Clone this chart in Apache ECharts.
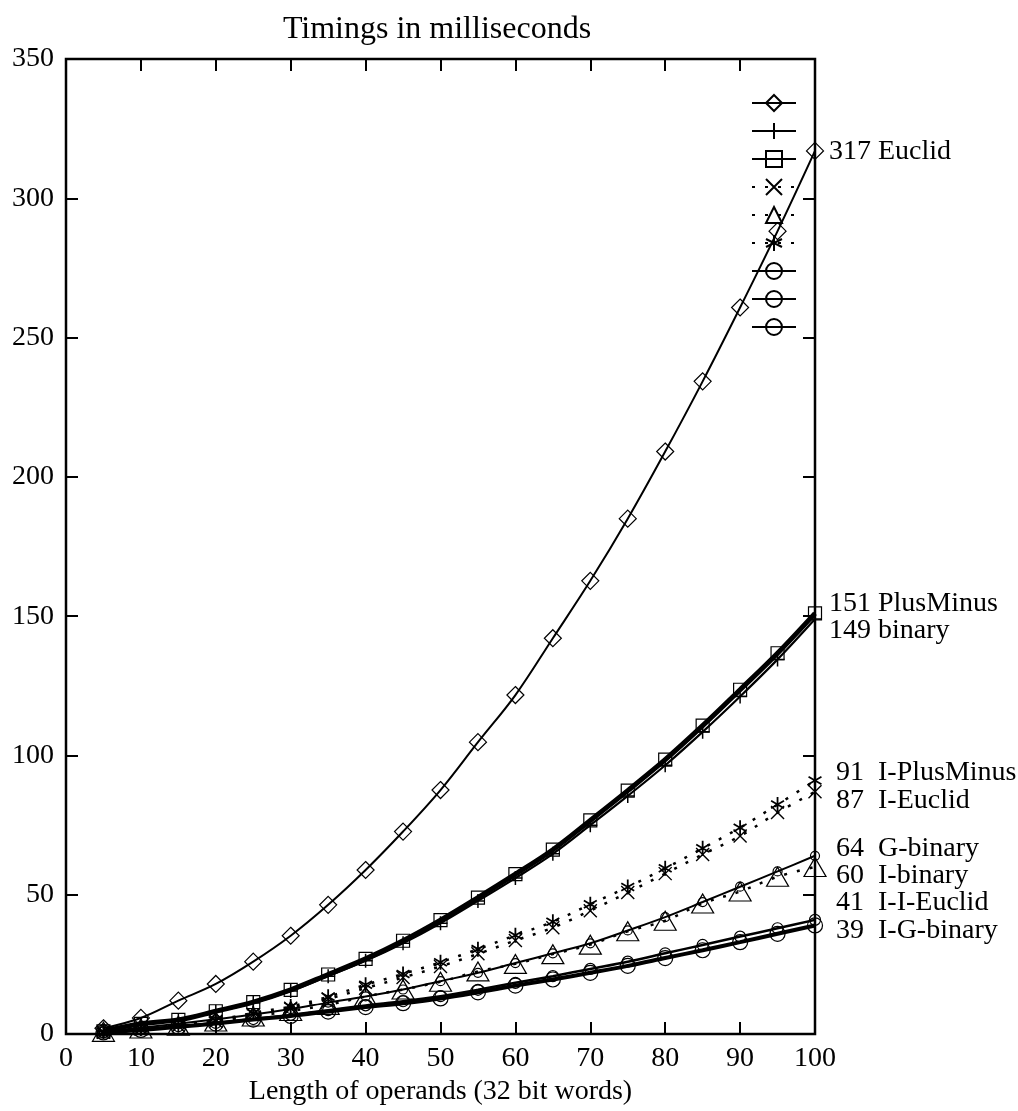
<!DOCTYPE html>
<html>
<head>
<meta charset="utf-8">
<script src="https://cdn.jsdelivr.net/npm/echarts@6/dist/echarts.min.js"></script>
<style>
  html, body { margin: 0; padding: 0; background: #fff; }
  #chart { width: 1018px; height: 1111px; }
</style>
</head>
<body>
<div id="chart"></div>
<script>
// Operand lengths (32 bit words)
const lengths = [5, 10, 15, 20, 25, 30, 35, 40, 45, 50, 55, 60, 65, 70, 75, 80, 85, 90, 95, 100];

// Timings in milliseconds per algorithm
const euclid      = [2.1, 5.8, 12, 18, 26, 35.3, 46.4, 58.9, 72.7, 87.6, 104.8, 121.7, 142.1, 162.7, 185, 209.1, 234.3, 260.8, 288.2, 317];
const binary      = [1, 3.5, 5, 8, 11.2, 15.5, 20.8, 26.3, 32.6, 39.8, 47.8, 56, 64.7, 75, 85.5, 96.5, 108.5, 121.2, 134.5, 149];
const plusMinus   = [1, 3.7, 5.1, 8.2, 11.5, 15.9, 21.4, 27, 33.5, 40.9, 49, 57.4, 66.2, 76.7, 87.4, 98.5, 110.7, 123.6, 136.7, 151];
const iEuclid     = [0.7, 1.8, 3, 4.6, 7, 9.3, 12.6, 16.5, 20.3, 24.3, 28.8, 33.6, 38.2, 44.3, 50.8, 57.6, 64.5, 71.1, 79.5, 87];
const iBinary     = [0.8, 2, 3, 4.5, 6.3, 8.3, 10.5, 13.5, 16, 18.8, 22.5, 25.2, 28.7, 32.1, 36.9, 40.7, 46.9, 51.2, 56.5, 60];
const iPlusMinus  = [0.8, 2, 3.3, 5, 7.6, 9.9, 13.4, 17.7, 21.6, 25.8, 30.5, 35.5, 40.3, 46.6, 52.8, 59.5, 66.7, 74.1, 82.4, 91];
const gBinary     = [1, 2.3, 3.7, 5.3, 7, 9, 11.3, 13.5, 16, 19, 22, 25.5, 29, 32.6, 37.2, 42, 47.4, 52.9, 58.4, 64];
const iiEuclid    = [0.7, 1.7, 2.8, 4, 5.4, 6.9, 8.6, 10.3, 11.8, 13.6, 15.9, 18.4, 20.8, 23.4, 26, 29, 32, 35, 38, 41];
const igBinary    = [0.6, 1.5, 2.6, 3.8, 5.2, 6.5, 8.1, 9.7, 11.1, 12.8, 15, 17.4, 19.6, 22, 24.5, 27.3, 30.1, 33, 36, 39];

// Axis ticks
const xTicks = { min: 0, max: 100, step: 10 };
const yTicks = { min: 0, max: 350, step: 50 };

const FONT = '"Liberation Serif", "DejaVu Serif", serif';
const FS = 28;

const SYM = {
  plus: 'path://M0,50L100,50M50,0L50,100',
  cross: 'path://M0,0L100,100M100,0L0,100',
  star: 'path://M50,0L50,100M7,25L93,75M7,75L93,25'
};

function pairs(arr) { return lengths.map((x, i) => [x, arr[i]]); }

function series(name, values, opts) {
  return {
    name: name,
    type: 'line',
    data: pairs(values),
    smooth: 0.35,
    symbol: opts.symbol,
    symbolSize: opts.size,
    symbolKeepAspect: true,
    showAllSymbol: true,
    z: opts.z || 2,
    lineStyle: { color: '#000', width: opts.width, type: opts.type || 'solid', cap: 'butt' },
    itemStyle: { color: 'rgba(0,0,0,0)', borderColor: '#000', borderWidth: opts.bw || 1.2 },
    emphasis: { disabled: true },
    endLabel: {
      show: true,
      formatter: function (p) { return '{n|' + Math.round(p.value[1]) + '} ' + name; },
      distance: 14,
      offset: [0, opts.dy || 0],
      color: '#000',
      fontFamily: FONT,
      fontSize: FS,
      rich: { n: { width: 42, align: 'right', fontFamily: FONT, fontSize: FS, color: '#000' } }
    }
  };
}

const chart = echarts.init(document.getElementById('chart'), null, { renderer: 'canvas' });

const axisCommon = {
  type: 'value',
  axisLine: { show: false, onZero: false },
  splitLine: { show: false },
  axisTick: { show: true, inside: true, length: 12, lineStyle: { color: '#000', width: 2 } }
};

chart.setOption({
  animation: false,
  backgroundColor: '#fff',
  title: {
    text: 'Timings in milliseconds',
    left: 432, textAlign: 'center', top: 9,
    textStyle: { fontFamily: FONT, fontSize: 32, fontWeight: 'normal', color: '#000' }
  },
  grid: {
    left: 66, right: 203, top: 59, bottom: 74,
    show: true, borderColor: '#000', borderWidth: 2.5, backgroundColor: '#fff'
  },
  legend: {
    show: true,
    orient: 'vertical',
    left: 746, top: 88,
    itemWidth: 44, itemHeight: 20, itemGap: 9,
    formatter: function () { return ''; },
    selectedMode: false,
    textStyle: { fontSize: 1 }
  },
  xAxis: [
    Object.assign({}, axisCommon, {
      min: xTicks.min, max: xTicks.max, interval: xTicks.step,
      position: 'bottom',
      name: 'Length of operands (32 bit words)',
      nameLocation: 'middle', nameGap: 38,
      nameTextStyle: { fontFamily: FONT, fontSize: FS, color: '#000' },
      axisLabel: { fontFamily: FONT, fontSize: FS, color: '#000', margin: 11 }
    }),
    Object.assign({}, axisCommon, {
      min: xTicks.min, max: xTicks.max, interval: xTicks.step,
      position: 'top', axisLabel: { show: false }
    })
  ],
  yAxis: [
    Object.assign({}, axisCommon, {
      min: yTicks.min, max: yTicks.max, interval: yTicks.step,
      position: 'left',
      axisLabel: { fontFamily: FONT, fontSize: FS, color: '#000', margin: 12 }
    }),
    Object.assign({}, axisCommon, {
      min: yTicks.min, max: yTicks.max, interval: yTicks.step,
      position: 'right', axisLabel: { show: false }
    })
  ],
  series: [
    series('Euclid',      euclid,     { symbol: 'diamond', size: [17, 17], width: 2, dy: 1 }),
    series('binary',      binary,     { symbol: SYM.plus, size: [14, 14], width: 2.2, dy: 12, bw: 1.5 }),
    series('PlusMinus',   plusMinus,  { symbol: 'rect', size: [13, 13], width: 5, dy: -10, z: 3 }),
    series('I-Euclid',    iEuclid,    { symbol: SYM.cross, size: [13, 13], width: 2.5, type: [3, 10], dy: 9, bw: 1.4 }),
    series('I-binary',    iBinary,    { symbol: 'triangle', size: [22, 19], width: 2.5, type: [3, 10], dy: 9 }),
    series('I-PlusMinus', iPlusMinus, { symbol: SYM.star, size: [15, 15], width: 2.5, type: [3, 10], dy: -8, bw: 1.8 }),
    series('G-binary',    gBinary,    { symbol: 'circle', size: [9, 9], width: 2, dy: -7 }),
    series('I-I-Euclid',  iiEuclid,   { symbol: 'circle', size: [11, 11], width: 2.5, dy: -17 }),
    series('I-G-binary',  igBinary,   { symbol: 'circle', size: [15, 15], width: 4, dy: 5 })
  ]
});
</script>
</body>
</html>
